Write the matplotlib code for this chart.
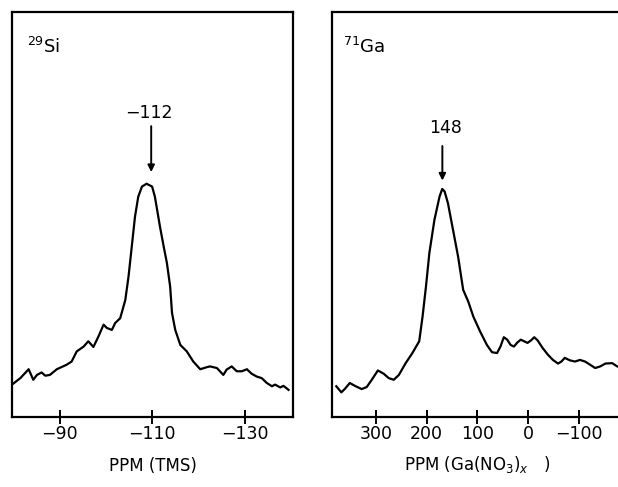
import matplotlib
matplotlib.use("Agg")
import matplotlib.pyplot as plt

# 29Si spectrum, ppm vs TMS (intensity in arbitrary units)
si_ppm = [-79.7, -81.5, -83.3, -84.3, -85.1, -86.1, -86.9, -87.9, -89.4, -91.5,
          -92.6, -93.7, -95.2, -96.2, -97.3, -98.4, -99.5, -100.2, -101.3, -102.0,
          -103.1, -104.2, -104.9, -105.6, -106.3, -107.0, -107.8, -108.8, -110.0, -110.6,
          -111.7, -112.5, -113.2, -113.9, -114.3, -115.0, -116.1, -117.5, -118.9, -120.4,
          -121.8, -122.5, -124.0, -125.4, -126.1, -127.2, -128.3, -129.4, -130.5, -131.5,
          -132.6, -133.7, -134.8, -135.9, -136.6, -137.7, -138.4, -139.5]
si_int = [8.0, 9.6, 11.8, 9.2, 10.4, 11.0, 10.2, 10.4, 11.8, 12.9,
          13.7, 16.2, 17.4, 18.7, 17.3, 19.9, 22.8, 22.0, 21.5, 23.2,
          24.4, 28.9, 34.7, 42.1, 49.5, 54.4, 56.9, 57.6, 56.9, 54.4,
          47.0, 42.1, 38.0, 32.2, 25.7, 21.5, 17.8, 16.2, 13.7, 11.8,
          12.3, 12.5, 12.1, 10.4, 11.7, 12.5, 11.3, 11.3, 11.8, 10.7,
          10.0, 9.6, 8.4, 7.6, 8.0, 7.3, 7.7, 6.7]

# 71Ga spectrum, ppm vs Ga(NO3)x
ga_ppm = [377.9, 368, 361.3, 351.3, 341.3, 328, 318, 308, 296, 284.6,
          274.6, 264.6, 254.6, 241.3, 228, 214.6, 208, 201.3, 194.6, 184.6,
          174.6, 169.3, 164.6, 158, 148, 138, 128, 118, 108, 94.6,
          81.3, 71.3, 61.3, 54.6, 48, 41.3, 34.6, 28, 21.3, 14.6,
          8, 1.3, -5.4, -12, -18.7, -28.7, -38.7, -48.7, -58.7, -65.4,
          -72, -82, -92, -102, -112, -122, -132, -142, -152, -165.4,
          -175.4, -185.4]
ga_int = [7.6, 6.1, 6.9, 8.4, 7.7, 6.9, 7.4, 9.2, 11.5, 10.7,
          9.6, 9.2, 10.4, 13.3, 15.8, 18.7, 24.8, 32.2, 40.5, 48.7,
          54.4, 56.3, 55.7, 52.8, 46.2, 39.6, 31.4, 28.5, 24.8, 21.1,
          17.8, 16.0, 15.8, 17.4, 19.7, 19.1, 17.8, 17.4, 18.4, 19.1,
          18.7, 18.3, 18.9, 19.7, 18.9, 17.0, 15.4, 14.1, 13.2, 13.7,
          14.6, 14.0, 13.7, 14.1, 13.7, 12.9, 12.1, 12.5, 13.2, 13.3,
          12.5, 12.1]

si_ticks = [-90, -110, -130]
ga_ticks = [300, 200, 100, 0, -100]

plt.rcParams['font.family'] = ['DejaVu Sans']

fig = plt.figure(figsize=(6.18, 4.87), dpi=100)
ax1 = fig.add_axes([0.0194, 0.1437, 0.455, 0.8316])
ax2 = fig.add_axes([0.537, 0.1437, 0.47, 0.8316])

for ax in (ax1, ax2):
    ax.set_ylim(0, 100)
    ax.set_yticks([])
    for s in ax.spines.values():
        s.set_linewidth(1.6)
    ax.tick_params(axis='x', direction='inout', length=10, width=1.4,
                   labelsize=12.5, pad=1)

ax1.plot(si_ppm, si_int, color='black', lw=1.6)
ax1.set_xlim(-79.7, -140.5)
ax1.set_xticks(si_ticks)
ax1.set_xlabel('PPM (TMS)', fontsize=12, labelpad=10)
ax1.text(0.055, 0.9, '$^{29}$Si', transform=ax1.transAxes, fontsize=13)
ax1.annotate('', xy=(-109.8, 59.8), xytext=(-109.8, 72.5),
             arrowprops=dict(arrowstyle='-|>', color='black', lw=1.4))
ax1.text(-109.3, 75, '\u2212112', ha='center', va='center', fontsize=12.5)

ax2.plot(ga_ppm, ga_int, color='black', lw=1.6)
ax2.set_xlim(386.6, -185.4)
ax2.set_xticks(ga_ticks)
ax2.spines['right'].set_visible(False)
ax2.set_xlabel('PPM (Ga(NO$_3$)$_x$   )', fontsize=12, labelpad=8)
ax2.text(0.04, 0.9, '$^{71}$Ga', transform=ax2.transAxes, fontsize=13)
ax2.annotate('', xy=(169, 57.7), xytext=(169, 67.6),
             arrowprops=dict(arrowstyle='-|>', color='black', lw=1.4))
ax2.text(162, 71.3, '148', ha='center', va='center', fontsize=12.5)

fig.savefig('out.png', dpi=100)
